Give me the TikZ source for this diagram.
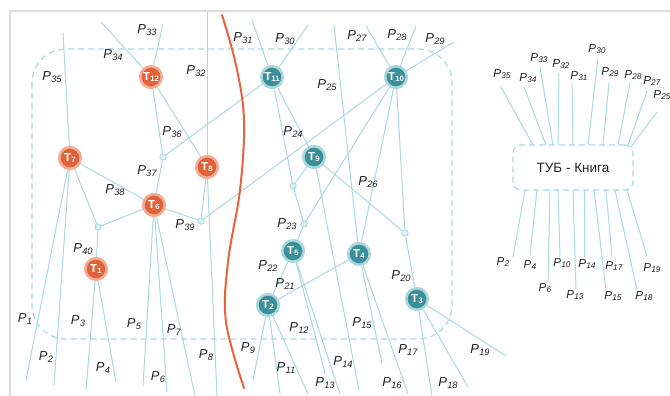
\documentclass[tikz,border=0pt]{standalone}
\usepackage{fontspec}
\setmainfont{Liberation Sans}
\definecolor{lineblue}{HTML}{A9D9E1}
\definecolor{orng}{HTML}{E1613B}
\definecolor{orngh}{HTML}{F2AD95}
\definecolor{tealc}{HTML}{3B8F9A}
\definecolor{tealh}{HTML}{AAD6DC}
\definecolor{framec}{HTML}{DCDCDC}
\definecolor{curvec}{HTML}{E8633D}
\definecolor{labc}{HTML}{222222}
\pgfdeclarelayer{bg}
\pgfsetlayers{bg,main}
\newcommand\plab[1]{\textit{P}\kern0.2pt\raisebox{-1.9pt}{\fontsize{9.3}{10}\selectfont\textit{#1}}}
\newcommand\qlab[1]{\textit{P}\kern0.2pt\raisebox{-1.7pt}{\fontsize{8.3}{9}\selectfont\textit{#1}}}
\newcommand\tlab[1]{\textbf{T}\kern0.2pt\raisebox{-0.8pt}{\fontsize{7.8}{8}\selectfont\textbf{#1}}}
\tikzset{
  ln/.style={draw=lineblue, line width=1pt},
  onode/.style={circle, fill=orng, draw=orngh, line width=2.6pt, minimum size=21.5pt, inner sep=0pt, text=white, font=\fontsize{11.5}{12}\selectfont},
  tnode/.style={circle, fill=tealc, draw=tealh, line width=2.6pt, minimum size=21.5pt, inner sep=0pt, text=white, font=\fontsize{11.5}{12}\selectfont},
  jn/.style={circle, fill=lineblue!45, draw=lineblue, line width=0.8pt, minimum size=6.5pt, inner sep=0pt},
  lab/.style={font=\fontsize{13}{14}\selectfont, text=labc, inner sep=0pt},
  lab2/.style={font=\fontsize{11.6}{12}\selectfont, text=labc, inner sep=0pt},
  dbox/.style={draw=lineblue, line width=1.2pt, dash pattern=on 6pt off 4pt},
}
\begin{document}
\begin{tikzpicture}[x=1pt,y=-1pt]
\useasboundingbox (0,0) rectangle (670,396);
\begin{pgfonlayer}{bg}
\fill[white] (0,0) rectangle (670,396);
\end{pgfonlayer}
% frame
\draw[framec, line width=1.4pt] (10,396) -- (10,11) -- (670,11);
% left dashed region
\draw[dbox, rounded corners=34pt] (32,49) rectangle (452,339);

% free ends
\coordinate (e35) at (63,33);
\coordinate (e1) at (26,380);
\coordinate (e2) at (54,385);
\coordinate (e34) at (101,22);
\coordinate (e33) at (163,24);
\coordinate (e32) at (207,12);
\coordinate (e8) at (217,396);
\coordinate (e3) at (86,390);
\coordinate (e4) at (116,382);
\coordinate (e5) at (143,386);
\coordinate (e6) at (167,392);
\coordinate (e7) at (195,396);
\coordinate (e31) at (252,20);
\coordinate (e30) at (308,25);
\coordinate (e27) at (366,26);
\coordinate (e28) at (416,26);
\coordinate (e29) at (454,42);
\coordinate (e25) at (334,25);
\coordinate (e9) at (253,380);
\coordinate (e11) at (280,394);
\coordinate (e12) at (308,394);
\coordinate (e13) at (325,373);
\coordinate (e14) at (340,394);
\coordinate (e15a) at (359,390);
\coordinate (e15) at (382,363);
\coordinate (e16) at (408,394);
\coordinate (e17) at (432,396);
\coordinate (e18) at (468,387);
\coordinate (e19) at (506,356);

% nodes
\node[onode] (T12) at (151,77) {\tlab{12}};
\node[onode] (T7) at (70,158) {\tlab{7}};
\node[onode] (T8) at (207,167) {\tlab{8}};
\node[onode] (T6) at (154,205) {\tlab{6}};
\node[onode] (T1) at (96,269) {\tlab{1}};
\node[tnode] (T11) at (272,77) {\tlab{11}};
\node[tnode] (T10) at (396,77) {\tlab{10}};
\node[tnode] (T9) at (314,157) {\tlab{9}};
\node[tnode] (T5) at (293,251) {\tlab{5}};
\node[tnode] (T4) at (359,254) {\tlab{4}};
\node[tnode] (T2) at (268,305) {\tlab{2}};
\node[tnode] (T3) at (417,299) {\tlab{3}};
\node[jn] (j37) at (163,157) {};
\node[jn] (j40) at (98,227) {};
\node[jn] (j39) at (201,221) {};
\node[jn] (j24) at (293,186) {};
\node[jn] (j23) at (304,224) {};
\node[jn] (j20) at (405,233) {};

% edges, behind the nodes
\begin{pgfonlayer}{bg}
\draw[ln] (T7) -- (e35);
\draw[ln] (T7) -- (e1);
\draw[ln] (T7) -- (e2);
\draw[ln] (T12) -- (e34);
\draw[ln] (T12) -- (e33);
\draw[ln] (T8) -- (e32);
\draw[ln] (T8) -- (e8);
\draw[ln] (T1) -- (e3);
\draw[ln] (T1) -- (e4);
\draw[ln] (T6) -- (e5);
\draw[ln] (T6) -- (e6);
\draw[ln] (T6) -- (e7);
\draw[ln] (T11) -- (e31);
\draw[ln] (T11) -- (e30);
\draw[ln] (T10) -- (e27);
\draw[ln] (T10) -- (e28);
\draw[ln] (T10) -- (e29);
\draw[ln] (T4) -- (e25);
\draw[ln] (T2) -- (e9);
\draw[ln] (T2) -- (e11);
\draw[ln] (T2) -- (e12);
\draw[ln] (T5) -- (e13);
\draw[ln] (T5) -- (e14);
\draw[ln] (T9) -- (e15a);
\draw[ln] (T4) -- (e15);
\draw[ln] (T4) -- (e16);
\draw[ln] (T3) -- (e17);
\draw[ln] (T3) -- (e18);
\draw[ln] (T3) -- (e19);
\draw[ln] (T7) -- (T6);
\draw[ln] (T7) -- (j40);
\draw[ln] (T6) -- (j40);
\draw[ln] (j40) -- (T1);
\draw[ln] (T6) -- (j37);
\draw[ln] (j37) -- (T12);
\draw[ln] (j37) -- (T11);
\draw[ln] (T12) -- (T8);
\draw[ln] (T8) -- (j39);
\draw[ln] (T6) -- (j39);
\draw[ln] (j39) -- (T10);
\draw[ln] (T11) -- (T9);
\draw[ln] (T11) -- (j24);
\draw[ln] (j24) -- (T9);
\draw[ln] (j24) -- (j23);
\draw[ln] (j23) -- (T10);
\draw[ln] (j23) -- (T5);
\draw[ln] (T2) -- (T5);
\draw[ln] (T2) -- (T4);
\draw[ln] (T10) -- (T4);
\draw[ln] (T9) -- (j20);
\draw[ln] (T10) -- (j20);
\draw[ln] (j20) -- (T3);
\end{pgfonlayer}

% orange curve
\draw[curvec, line width=2pt, line cap=round] plot[smooth, tension=0.6] coordinates {(222,15) (236,65) (244,120) (240,190) (228,262) (226,322) (244,388)};

% labels main
\node[lab] at (147,30) {\plab{33}};
\node[lab] at (113,55) {\plab{34}};
\node[lab] at (52,77) {\plab{35}};
\node[lab] at (196,71) {\plab{32}};
\node[lab] at (243,38) {\plab{31}};
\node[lab] at (285,39) {\plab{30}};
\node[lab] at (327,85) {\plab{25}};
\node[lab] at (357,36) {\plab{27}};
\node[lab] at (397,35) {\plab{28}};
\node[lab] at (435,39) {\plab{29}};
\node[lab] at (172,132) {\plab{36}};
\node[lab] at (147,171) {\plab{37}};
\node[lab] at (115,190) {\plab{38}};
\node[lab] at (185,225) {\plab{39}};
\node[lab] at (83,249) {\plab{40}};
\node[lab] at (293,132) {\plab{24}};
\node[lab] at (368,182) {\plab{26}};
\node[lab] at (287,224) {\plab{23}};
\node[lab] at (268,266) {\plab{22}};
\node[lab] at (285,284) {\plab{21}};
\node[lab] at (401,276) {\plab{20}};
\node[lab] at (25,319) {\plab{1}};
\node[lab] at (46,357) {\plab{2}};
\node[lab] at (78,321) {\plab{3}};
\node[lab] at (103,368) {\plab{4}};
\node[lab] at (134,324) {\plab{5}};
\node[lab] at (158,377) {\plab{6}};
\node[lab] at (174,330) {\plab{7}};
\node[lab] at (206,355) {\plab{8}};
\node[lab] at (248,348) {\plab{9}};
\node[lab] at (286,368) {\plab{11}};
\node[lab] at (299,328) {\plab{12}};
\node[lab] at (325,383) {\plab{13}};
\node[lab] at (343,362) {\plab{14}};
\node[lab] at (362,323) {\plab{15}};
\node[lab] at (392,383) {\plab{16}};
\node[lab] at (408,350) {\plab{17}};
\node[lab] at (448,383) {\plab{18}};
\node[lab] at (480,350) {\plab{19}};

% right panel
\node[dbox, rounded corners=8pt, minimum width=120pt, minimum height=45pt, font=\fontsize{13.5}{15}\selectfont, text=labc] (tub) at (573,167.5) {ТУБ - Книга};
\foreach \a/\b/\l/\lp in {
  {501,87}/{533,145}/35/{502,74},
  {524,87}/{546,145}/34/{528,78},
  {540,67}/{553,145}/33/{539,58},
  {559,73}/{558,145}/32/{561,64},
  {572,83}/{573,145}/31/{579,76},
  {598,58}/{588,145}/30/{597,49},
  {609,83}/{603,145}/29/{610,72},
  {630,83}/{618,145}/28/{633,75},
  {647,91}/{628,145}/27/{652,81},
  {657,112}/{631,147}/25/{662,95}}
{
  \draw[ln] (\a) -- (\b);
  \node[lab2] at (\lp) {\qlab{\l}};
}
\foreach \a/\b/\l/\lp in {
  {525,190}/{513,257}/2/{503,262},
  {537,190}/{530,255}/4/{530,265},
  {550,190}/{548,282}/6/{545,288},
  {558,190}/{560,257}/10/{562,263},
  {573,190}/{576,289}/13/{575,295},
  {584,190}/{584,257}/14/{587,264},
  {594,190}/{606,290}/15/{613,296},
  {606,190}/{612,257}/17/{614,266},
  {615,190}/{637,290}/18/{644,296},
  {627,190}/{647,256}/19/{652,268}}
{
  \draw[ln] (\a) -- (\b);
  \node[lab2] at (\lp) {\qlab{\l}};
}
\end{tikzpicture}
\end{document}
